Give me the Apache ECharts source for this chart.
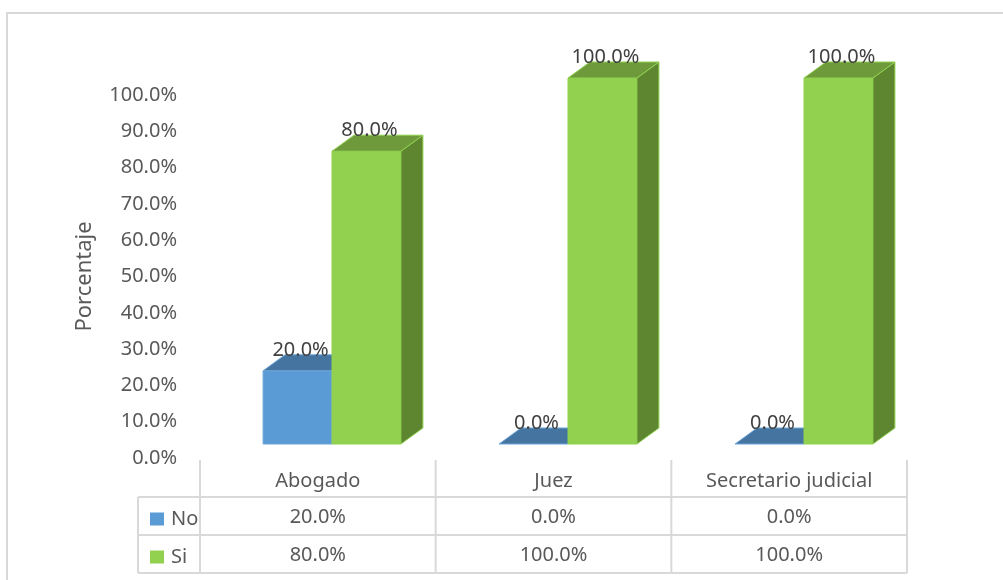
<!DOCTYPE html>
<html>
<head>
<meta charset="utf-8">
<script src="https://cdn.jsdelivr.net/npm/echarts@6/dist/echarts.min.js"></script>
<style>
html,body{margin:0;padding:0;background:#fff;}
#chart{width:1003px;height:580px;}
</style>
</head>
<body>
<div id="chart"></div>
<script>
// ---- data ----
var categories = ['Abogado', 'Juez', 'Secretario judicial'];
var seriesNames = ['No', 'Si'];
var noValues = [20.0, 0.0, 0.0];
var siValues = [80.0, 100.0, 100.0];
var yTicks = [0, 10, 20, 30, 40, 50, 60, 70, 80, 90, 100];
var axisTitle = 'Porcentaje';

var FONT = 'Noto Sans';
var palette = {
  No: {front: '#5B9BD5', top: '#44749F', side: '#3E6A93', stroke: '#6BA5DA'},
  Si: {front: '#92D050', top: '#6E9A3B', side: '#5E8530', stroke: '#8FD14F'}
};
var DX = 22, DY = 16, BAR_FRAC = 0.292;

function fmt(v) { return v.toFixed(1) + '%'; }

function barRender(name, offsetSide) {
  var col = palette[name];
  return function (params, api) {
    var idx = api.value(0), val = api.value(1);
    var band = api.size([1, 0])[0];
    var w = band * BAR_FRAC;
    var base = api.coord([idx, 0]);
    var topPt = api.coord([idx, val]);
    var cx = base[0];
    var left = offsetSide < 0 ? cx - w : cx;
    var yb = base[1], yt = topPt[1];
    var children = [];
    if (yb - yt > 0.5) {
      children.push({type: 'rect', shape: {x: left, y: yt, width: w, height: yb - yt},
        style: {fill: col.front, stroke: col.stroke, lineWidth: 1}});
      children.push({type: 'polygon', shape: {points: [[left + w, yt], [left + w + DX, yt - DY], [left + w + DX, yb - DY], [left + w, yb]]},
        style: {fill: col.side, stroke: col.stroke, lineWidth: 1}});
    }
    children.push({type: 'polygon', shape: {points: [[left, yt], [left + w, yt], [left + w + DX, yt - DY], [left + DX, yt - DY]]},
      style: {fill: col.top, stroke: col.stroke, lineWidth: 1}});
    children.push({type: 'text', z2: 10, style: {text: fmt(val), x: left + w / 2 + 3, y: yt - DY + 5,
      align: 'center', verticalAlign: 'bottom', fill: '#404040', font: '20px "' + FONT + '"'}});
    return {type: 'group', children: children};
  };
}

function tableRender(params, api) {
  var idx = api.value(0);
  var band = api.size([1, 0])[0];
  var base = api.coord([idx, 0]);
  var cx = base[0], y0 = base[1];
  var l = cx - band / 2, r = cx + band / 2;
  var yH = y0 + 2, y1 = y0 + 39, y2 = y0 + 77, y3 = y0 + 115;
  var ls = {stroke: '#D9D9D9', lineWidth: 2};
  var ts = function (t, y) {
    return {type: 'text', style: {text: t, x: cx, y: y, align: 'center', verticalAlign: 'middle', fill: '#595959', font: '20px "' + FONT + '"'}};
  };
  var ch = [];
  var leftX = idx === 0 ? l - 62 : l;
  ch.push({type: 'line', shape: {x1: l, y1: yH, x2: l, y2: y3}, style: ls});
  if (idx === categories.length - 1) ch.push({type: 'line', shape: {x1: r, y1: yH, x2: r, y2: y3}, style: ls});
  ch.push({type: 'line', shape: {x1: leftX, y1: y1, x2: r, y2: y1}, style: ls});
  ch.push({type: 'line', shape: {x1: leftX, y1: y2, x2: r, y2: y2}, style: ls});
  ch.push({type: 'line', shape: {x1: leftX, y1: y3, x2: r, y2: y3}, style: ls});
  if (idx === 0) ch.push({type: 'line', shape: {x1: l - 62, y1: y1, x2: l - 62, y2: y3}, style: ls});
  ch.push(ts(categories[idx], y0 + 23));
  ch.push(ts(fmt(noValues[idx]), y0 + 59));
  ch.push(ts(fmt(siValues[idx]), y0 + 97));
  return {type: 'group', children: ch};
}

var chart = echarts.init(document.getElementById('chart'), null, {renderer: 'canvas'});
chart.setOption({
  backgroundColor: '#fff',
  animation: false,
  graphic: [{type: 'rect', shape: {x: 7, y: 13, width: 1010, height: 600}, style: {fill: 'none', stroke: '#D9D9D9', lineWidth: 2}, z: -1}],
  legend: {
    orient: 'vertical', left: 145, top: 504, itemWidth: 14, itemHeight: 13, itemGap: 18,
    icon: 'rect', data: seriesNames,
    textStyle: {fontFamily: FONT, fontSize: 20, color: '#595959', padding: [0, 0, 0, 2]}
  },
  grid: [
    {left: 214, right: 81, top: 78, bottom: 136},
    {left: 200, right: 96, top: 95, bottom: 122}
  ],
  xAxis: [
    {type: 'category', gridIndex: 0, data: categories, show: false},
    {type: 'category', gridIndex: 1, data: categories, axisLine: {show: false}, axisTick: {show: false}, axisLabel: {show: false}}
  ],
  yAxis: [
    {type: 'value', gridIndex: 0, min: 0, max: 100, show: false},
    {type: 'value', gridIndex: 1, min: 0, max: 100, interval: 10,
      axisLine: {show: false}, axisTick: {show: false}, splitLine: {show: false},
      axisLabel: {margin: 23, color: '#595959', fontFamily: FONT, fontSize: 20, formatter: function (v) { return fmt(v); }},
      name: axisTitle, nameLocation: 'middle', nameGap: 104, nameRotate: 90,
      nameTextStyle: {fontFamily: FONT, fontSize: 22, color: '#595959'}
    }
  ],
  series: [
    {name: 'No', type: 'custom', xAxisIndex: 0, yAxisIndex: 0, itemStyle: {color: palette.No.front},
      renderItem: barRender('No', -1), data: noValues.map(function (v, i) { return [i, v]; })},
    {name: 'Si', type: 'custom', xAxisIndex: 0, yAxisIndex: 0, itemStyle: {color: palette.Si.front},
      renderItem: barRender('Si', 1), data: siValues.map(function (v, i) { return [i, v]; })},
    {name: 'table', type: 'custom', xAxisIndex: 1, yAxisIndex: 1, silent: true,
      renderItem: tableRender, data: categories.map(function (c, i) { return [i, 0]; })}
  ]
});
</script>
</body>
</html>
